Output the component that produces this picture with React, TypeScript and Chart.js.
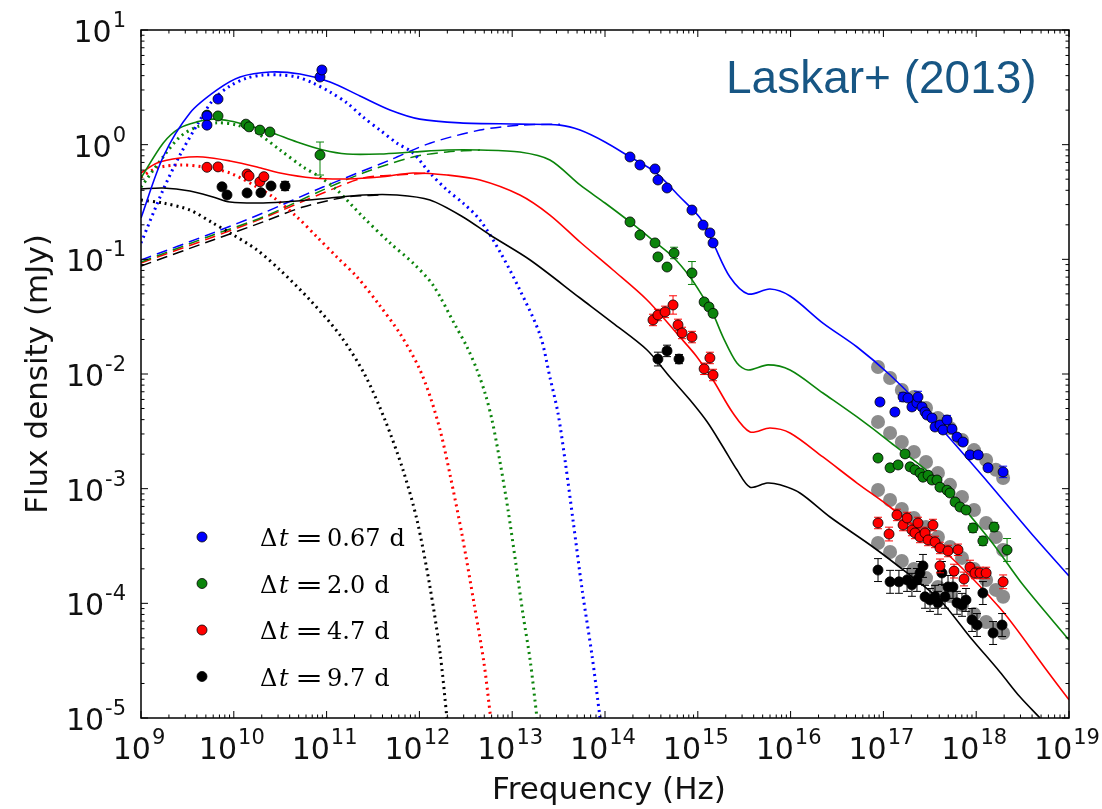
import { useEffect, useRef } from "react";
import { Chart, registerables } from "chart.js";

Chart.register(...registerables);

// [frequency (Hz), flux density (mJy)]
type Pt = [number, number];
// [frequency (Hz), flux density (mJy), error below (dex), error above (dex, optional)]
type Obs = number[];

// Tick decades
const xDecades = [9, 10, 11, 12, 13, 14, 15, 16, 17, 18, 19];
const yDecades = [-5, -4, -3, -2, -1, 0, 1];

const epochLabels = ["0.67", "2.0", "4.7", "9.7"];
const epochColors = ["#0000ff", "#0b840b", "#ff0000", "#000000"];

// ---- Δt = 0.67 d ----
const total067: Pt[] = [
  [1e9, 0.229], [1.73e9, 0.781], [3.37e9, 1.89], [6.59e9, 3.0], [1.17e10, 3.89], [2.45e10, 4.3],
  [5.17e10, 4.13], [1.09e11, 3.52], [2.29e11, 2.66], [4.82e11, 2.01], [1.01e12, 1.67], [2.74e12, 1.55],
  [1.21e13, 1.51], [3.27e13, 1.48], [5.38e13, 1.34], [1e14, 1.055], [1.86e14, 0.781], [3.46e14, 0.578],
  [6.43e14, 0.35], [1.06e15, 0.229], [1.46e15, 0.139], [2.22e15, 0.0701], [3.48e15, 0.0499],
  [6.0e15, 0.0551], [9.86e15, 0.0479], [2.23e16, 0.0278], [5.2e16, 0.0172], [1.18e17, 0.0098],
  [2.48e17, 0.00537], [1.1e18, 0.00137], [3.8e18, 4.19e-4], [1e19, 1.73e-4],
];
const reverse067: Pt[] = [
  [1e9, 0.139], [1.73e9, 0.403], [2.63e9, 0.813], [4.01e9, 1.48], [5.97e9, 2.45], [9.1e9, 3.25],
  [1.39e10, 3.81], [2.07e10, 4.05], [3.15e10, 4.05], [4.8e10, 3.89], [7.13e10, 3.45], [1.09e11, 2.88],
  [1.66e11, 2.31], [2.47e11, 1.74], [3.76e11, 1.34], [5.74e11, 1.03], [8.53e11, 0.846], [1.3e12, 0.566],
  [1.98e12, 0.403], [2.95e12, 0.31], [4.5e12, 0.22], [7.4e12, 0.116], [1.21e13, 0.054], [2.0e13, 0.0218],
  [2.56e13, 0.00923], [3.12e13, 0.00452], [3.75e13, 0.00166], [4.52e13, 5.33e-4], [5.68e13, 1.3e-4],
  [7.25e13, 3.5e-5], [8.84e13, 1e-5],
];
const forward067: Pt[] = [
  [1e9, 0.0987], [5.97e9, 0.17], [2.07e10, 0.2535], [9.15e10, 0.427], [4.82e11, 0.735],
  [1.3e12, 1.03], [4.5e12, 1.34], [1.21e13, 1.48], [3.27e13, 1.51],
];
const obs067: Obs[] = [
  [5.14e9, 1.78, 0], [5.14e9, 1.48, 0], [6.76e9, 2.5, 0], [8.49e10, 3.89, 0.03], [8.9e10, 4.48, 0.03],
  [1.86e14, 0.781, 0], [2.38e14, 0.665, 0], [3.46e14, 0.614, 0], [3.72e14, 0.492, 0], [4.66e14, 0.419, 0],
  [8.65e14, 0.269, 0], [1.14e15, 0.199, 0], [1.35e15, 0.17, 0], [1.46e15, 0.139, 0],
  [9.18e16, 0.0057, 0.03], [1.33e17, 0.00466, 0.03], [1.63e17, 0.0063, 0.04], [1.84e17, 0.00617, 0.03],
  [2.03e17, 0.00516, 0.03], [2.3e17, 0.00559, 0.03], [2.36e17, 0.0063, 0.05], [2.61e17, 0.00516, 0.03],
  [2.81e17, 0.00466, 0.03], [2.95e17, 0.00439, 0.03], [3.34e17, 0.00413, 0.03], [3.6e17, 0.00345, 0.03],
  [4.07e17, 0.00359, 0.03], [4.39e17, 0.00325, 0.03], [4.85e17, 0.00397, 0.04], [5.49e17, 0.00331, 0.03],
  [6.21e17, 0.00282, 0.03], [7.21e17, 0.00255, 0.03], [8.57e17, 0.00197, 0.03], [1.05e18, 0.00197, 0.03],
  [1.34e18, 0.00152, 0.03], [1.95e18, 0.0014, 0.05],
];
const grey067: Pt[] = [
  [8.75e16, 0.0115], [1.18e17, 0.00923], [1.58e17, 0.00725], [2.13e17, 0.0063], [2.88e17, 0.00505],
  [3.87e17, 0.00413], [5.22e17, 0.00338], [7.03e17, 0.00266], [9.47e17, 0.00217], [1.28e18, 0.00178],
  [1.63e18, 0.00146], [1.95e18, 0.00124],
];

// ---- Δt = 2.0 d ----
const total20: Pt[] = [
  [1e9, 0.512], [1.73e9, 1.03], [2.63e9, 1.4], [4.01e9, 1.58], [5.97e9, 1.67], [9.1e9, 1.61],
  [1.39e10, 1.48], [2.45e10, 1.29], [4.8e10, 1.055], [9.15e10, 0.898], [1.66e11, 0.829], [3.76e11, 0.829],
  [8.53e11, 0.863], [1.98e12, 0.898], [4.5e12, 0.898], [1.21e13, 0.863], [2.55e13, 0.735], [5.38e13, 0.445],
  [1e14, 0.31], [1.86e14, 0.212], [3.46e14, 0.1416], [5.41e14, 0.1048], [8.25e14, 0.0701], [1.14e15, 0.0469],
  [1.46e15, 0.0334], [1.87e15, 0.021], [2.64e15, 0.01247], [3.48e15, 0.01084], [5.71e15, 0.012],
  [9.86e15, 0.01084], [2.23e16, 0.00683], [5.2e16, 0.00422], [1.18e17, 0.00255], [4.07e17, 0.00114],
  [1.41e18, 3.57e-4], [3.19e18, 1.45e-4], [1e19, 4.79e-5],
];
const reverse20: Pt[] = [
  [1e9, 0.427], [1.73e9, 0.781], [2.63e9, 1.17], [4.01e9, 1.43], [6.59e9, 1.55], [1.08e10, 1.48],
  [1.78e10, 1.26], [3.15e10, 0.898], [5.57e10, 0.639], [8.49e10, 0.522], [1.29e11, 0.403], [2.47e11, 0.234],
  [4.82e11, 0.139], [8.53e11, 0.0929], [1.4e12, 0.0597], [2.42e12, 0.0268], [3.26e12, 0.0172],
  [4.18e12, 0.01084], [5.09e12, 0.00683], [6.06e12, 0.00397], [7.39e12, 0.00171], [9.02e12, 6.52e-4],
  [1.1e13, 2.16e-4], [1.31e13, 7.91e-5], [1.56e13, 3.21e-5], [1.85e13, 1e-5],
];
const forward20: Pt[] = [
  [1e9, 0.0948], [5.97e9, 0.163], [2.07e10, 0.234], [9.15e10, 0.403], [2.47e11, 0.566],
  [8.53e11, 0.781], [1.98e12, 0.863], [4.5e12, 0.898],
];
const obs20: Obs[] = [
  [5.14e9, 1.81, 0], [6.76e9, 1.78, 0], [1.35e10, 1.51, 0], [1.46e10, 1.43, 0], [1.91e10, 1.34, 0],
  [2.45e10, 1.29, 0], [8.49e10, 0.813, 0.175, 0.113],
  [1.86e14, 0.212, 0], [2.38e14, 0.163, 0], [3.46e14, 0.139, 0], [3.72e14, 0.105, 0], [4.66e14, 0.0857, 0],
  [5.55e14, 0.1136, 0.05], [8.65e14, 0.076, 0.1], [1.17e15, 0.0425, 0.03], [1.32e15, 0.0384, 0.03],
  [1.46e15, 0.0338, 0.03],
  [8.75e16, 0.00185, 0.03], [1.18e17, 0.00152, 0.03], [1.44e17, 0.00161, 0.03], [1.71e17, 0.00201, 0.03],
  [1.94e17, 0.00155, 0.03], [2.19e17, 0.00146, 0.03], [2.48e17, 0.00137, 0.03], [2.67e17, 0.00126, 0.03],
  [3.03e17, 0.00131, 0.03], [3.34e17, 0.00119, 0.03], [3.78e17, 0.00119, 0.03], [4.07e17, 0.00103, 0.03],
  [4.85e17, 9.7e-4, 0.03], [5.22e17, 9.17e-4, 0.03], [5.92e17, 7.65e-4, 0.03], [6.69e17, 6.92e-4, 0.03],
  [7.76e17, 6.52e-4, 0.03], [9.24e17, 4.54e-4, 0.04], [1.18e18, 3.5e-4, 0.04], [1.56e18, 4.63e-4, 0.04],
  [2.15e18, 2.92e-4, 0.1],
];
const grey20: Pt[] = [
  [8.75e16, 0.00382], [1.18e17, 0.00306], [1.58e17, 0.00255], [2.13e17, 0.00209], [2.88e17, 0.00171],
  [3.87e17, 0.00137], [5.22e17, 0.00108], [7.03e17, 8.46e-4], [9.47e17, 6.52e-4], [1.28e18, 5.02e-4],
  [1.63e18, 3.79e-4], [1.95e18, 2.92e-4],
];

// ---- Δt = 4.7 d ----
const total47: Pt[] = [
  [1e9, 0.566], [1.49e9, 0.692], [2.63e9, 0.765], [4.66e9, 0.781], [9.1e9, 0.721], [1.78e10, 0.639],
  [3.15e10, 0.566], [7.13e10, 0.512], [1.66e11, 0.502], [3.76e11, 0.522], [8.53e11, 0.566], [1.98e12, 0.544],
  [4.5e12, 0.492], [1.21e13, 0.364], [2.55e13, 0.2435], [5.38e13, 0.1416], [1.22e14, 0.0807], [2.84e14, 0.0442],
  [6.43e14, 0.021], [9.8e14, 0.0141], [1.46e15, 0.00887], [2.39e15, 0.00457], [3.66e15, 0.00312],
  [6.0e15, 0.00338], [9.86e15, 0.00306], [2.23e16, 0.00189], [5.2e16, 0.00112], [1.18e17, 6.92e-4],
  [4.07e17, 3.1e-4], [1.8e18, 9.1e-5], [5.51e18, 2.73e-5], [1e19, 1.44e-5],
];
const reverse47: Pt[] = [
  [1e9, 0.522], [1.49e9, 0.626], [2.63e9, 0.665], [4.66e9, 0.639], [9.1e9, 0.566], [1.78e10, 0.427],
  [2.64e10, 0.35], [4.8e10, 0.234], [7.89e10, 0.1566], [1.29e11, 0.1048], [2.13e11, 0.0701],
  [3.68e11, 0.0402], [6.18e11, 0.0225], [9.82e11, 0.0115], [1.33e12, 0.00608], [1.71e12, 0.00301],
  [2.14e12, 0.00132], [2.88e12, 3.96e-4], [3.88e12, 9.98e-5], [4.97e12, 3.0e-5], [5.86e12, 1e-5],
];
const forward47: Pt[] = [
  [1e9, 0.0929], [5.97e9, 0.1566], [2.07e10, 0.229], [9.15e10, 0.379], [2.47e11, 0.512],
  [5.74e11, 0.544], [1.3e12, 0.566],
];
const obs47: Obs[] = [
  [5.14e9, 0.635, 0], [6.76e9, 0.64, 0], [1.39e10, 0.555, 0], [1.46e10, 0.533, 0], [1.91e10, 0.475, 0],
  [2.11e10, 0.526, 0],
  [3.29e14, 0.0296, 0.05], [3.72e14, 0.0327, 0.05], [4.44e14, 0.0348, 0.05], [5.41e14, 0.04, 0.08],
  [6.12e14, 0.0268, 0.05], [6.76e14, 0.0228, 0.05], [8.65e14, 0.021, 0.05], [1.17e15, 0.0111, 0.05],
  [1.35e15, 0.0138, 0.05], [1.46e15, 0.0098, 0.05],
  [8.75e16, 5.02e-4, 0.05], [1.15e17, 4.02e-4, 0.06], [1.4e17, 5.9e-4, 0.05], [1.63e17, 4.82e-4, 0.05],
  [1.8e17, 5.55e-4, 0.05], [2.03e17, 4.36e-4, 0.05], [2.19e17, 4.11e-4, 0.05], [2.36e17, 5.02e-4, 0.05],
  [2.48e17, 3.79e-4, 0.05], [2.81e17, 4.11e-4, 0.05], [3.03e17, 3.57e-4, 0.05], [3.42e17, 4.82e-4, 0.05],
  [3.6e17, 3.43e-4, 0.05], [4.07e17, 3.04e-4, 0.05], [4.97e17, 2.86e-4, 0.05], [6.37e17, 2.93e-4, 0.05],
  [4.07e17, 2.12e-4, 0.06], [5.77e17, 1.91e-4, 0.06], [7.39e17, 1.63e-4, 0.06], [8.57e17, 2.07e-4, 0.06],
  [9.7e17, 1.84e-4, 0.05], [1.1e18, 1.84e-4, 0.05], [1.28e18, 1.84e-4, 0.05], [1.95e18, 1.54e-4, 0.06],
];
const grey47: Pt[] = [
  [8.75e16, 9.74e-4], [1.18e17, 7.96e-4], [1.58e17, 6.65e-4], [2.13e17, 5.55e-4], [2.88e17, 4.63e-4],
  [3.87e17, 3.79e-4], [5.22e17, 3.1e-4], [7.03e17, 2.49e-4], [9.47e17, 1.99e-4], [1.28e18, 1.6e-4],
  [1.63e18, 1.31e-4], [1.95e18, 1.14e-4],
];

// ---- Δt = 9.7 d ----
const total97: Pt[] = [
  [1e9, 0.411], [1.73e9, 0.419], [3.37e9, 0.394], [5.97e9, 0.35], [9.1e9, 0.316], [2.07e10, 0.31],
  [4.8e10, 0.323], [1.09e11, 0.343], [2.47e11, 0.364], [5.74e11, 0.364], [1.3e12, 0.329], [2.95e12, 0.234],
  [5.77e12, 0.163], [1.56e13, 0.0987], [5.38e13, 0.046], [1.22e14, 0.0278], [2.84e14, 0.0162],
  [5.01e14, 0.00941], [8.25e14, 0.00593], [1.26e15, 0.00383], [1.87e15, 0.00231], [2.64e15, 0.00146],
  [3.66e15, 0.00103], [5.57e15, 0.00112], [7.69e15, 0.00108], [1.26e16, 9.17e-4], [2.66e16, 5.66e-4],
  [7.73e16, 3.1e-4], [1.8e17, 1.84e-4], [4.07e17, 1.07e-4], [8.57e17, 5.09e-5], [1.8e18, 2.52e-5],
  [2.96e18, 1.53e-5], [4.87e18, 1e-5],
];
const reverse97: Pt[] = [
  [1e9, 0.329], [1.73e9, 0.31], [3.37e9, 0.269], [5.97e9, 0.207], [9.1e9, 0.17], [1.78e10, 0.1206],
  [3.15e10, 0.0807], [6.62e10, 0.0442], [1.39e11, 0.0219], [2.59e11, 0.0098], [4.26e11, 0.00397],
  [6.65e11, 0.00146], [9.42e11, 5.33e-4], [1.3e12, 1.39e-4], [1.67e12, 3.69e-5], [1.98e12, 1e-5],
];
const forward97: Pt[] = [
  [1e9, 0.0875], [5.97e9, 0.1475], [2.07e10, 0.212], [5.57e10, 0.286], [1.66e11, 0.35], [3.76e11, 0.364],
];
const obs97: Obs[] = [
  [7.46e9, 0.429, 0], [8.45e9, 0.364, 0], [1.39e10, 0.379, 0], [1.96e10, 0.381, 0], [2.52e10, 0.436, 0],
  [3.57e10, 0.436, 0.04],
  [3.72e14, 0.0135, 0.06], [4.66e14, 0.0159, 0.05], [6.27e14, 0.0135, 0.04],
  [8.75e16, 1.95e-4, 0.1], [1.18e17, 1.54e-4, 0.1], [1.47e17, 1.54e-4, 0.1], [1.8e17, 1.6e-4, 0.1],
  [2.03e17, 1.45e-4, 0.1], [2.3e17, 1.6e-4, 0.1], [2.48e17, 1.84e-4, 0.1], [2.67e17, 2.12e-4, 0.1],
  [2.81e17, 1.14e-4, 0.1], [3.18e17, 1.07e-4, 0.1], [3.6e17, 1.14e-4, 0.1], [3.87e17, 1.01e-4, 0.1],
  [4.27e17, 1.84e-4, 0.1], [4.61e17, 1.14e-4, 0.1], [4.97e17, 1.39e-4, 0.1], [5.62e17, 1.39e-4, 0.1],
  [6.21e17, 1.01e-4, 0.1], [7.03e17, 9.7e-5, 0.1], [7.76e17, 1.07e-4, 0.1], [9.02e17, 7.16e-5, 0.1],
  [1.02e18, 6.47e-5, 0.1], [1.18e18, 1.23e-4, 0.1], [1.52e18, 5.51e-5, 0.1], [1.9e18, 6.47e-5, 0.1],
];
const grey97: Pt[] = [
  [8.75e16, 3.36e-4], [1.18e17, 2.8e-4], [1.58e17, 2.34e-4], [2.13e17, 1.99e-4], [2.88e17, 1.66e-4],
  [3.87e17, 1.39e-4], [5.22e17, 1.16e-4], [7.03e17, 9.67e-5], [9.47e17, 8.07e-5], [1.28e18, 6.87e-5],
  [1.63e18, 5.97e-5], [1.95e18, 5.51e-5],
];

const totals = [total067, total20, total47, total97];
const reverses = [reverse067, reverse20, reverse47, reverse97];
const forwards = [forward067, forward20, forward47, forward97];
const observations = [obs067, obs20, obs47, obs97];
const greys = [grey067, grey20, grey47, grey97];

const SANS = '"DejaVu Sans", "Noto Sans", sans-serif';
const SERIF = '"DejaVu Serif", "Liberation Serif", serif';

const toXY = (pts: Pt[] | Obs[]) => pts.map((p) => ({ x: p[0], y: p[1] }));

function buildDatasets() {
  const sets: any[] = [];
  epochLabels.forEach((_, i) => {
    const color = epochColors[i];
    sets.push({
      data: toXY(greys[i]), showLine: false, pointRadius: 7, pointHoverRadius: 7,
      pointBackgroundColor: "#8c8c8c", pointBorderWidth: 0, order: 5,
    });
    const line = { showLine: true, pointRadius: 0, pointHoverRadius: 0, fill: false, tension: 0.3, borderColor: color };
    sets.push({ ...line, data: toXY(forwards[i]), borderWidth: 1.5, borderDash: [11, 6], order: 4 });
    sets.push({ ...line, data: toXY(reverses[i]), borderWidth: 3, borderDash: [2, 4], order: 3 });
    sets.push({ ...line, data: toXY(totals[i]), borderWidth: 1.6, order: 2 });
    const obs = observations[i];
    sets.push({
      data: toXY(obs), showLine: false, pointRadius: 5, pointHoverRadius: 5,
      pointBackgroundColor: color, pointBorderColor: "#000", pointBorderWidth: 0.8, order: 1,
      errs: obs.map((o) => (o[2] ? [o[2], o[3] ?? o[2]] : null)), errColor: color,
    });
  });
  return sets;
}

function drawPower(ctx: CanvasRenderingContext2D, exp: string, x: number, baseline: number, align: "center" | "right") {
  ctx.font = `30px ${SANS}`;
  const wb = ctx.measureText("10").width;
  ctx.font = `21px ${SANS}`;
  const ws = ctx.measureText(exp).width;
  const total = wb + 1 + ws;
  const left = align === "center" ? x - total / 2 : x - total;
  ctx.textAlign = "left";
  ctx.textBaseline = "alphabetic";
  ctx.font = `30px ${SANS}`;
  ctx.fillText("10", left, baseline);
  ctx.font = `21px ${SANS}`;
  ctx.fillText(exp, left + wb + 1, baseline - 15);
}

const decor = {
  id: "decor",
  beforeDatasetDraw(chart: any, args: any) {
    const ds = chart.data.datasets[args.index];
    if (!ds.errs) return;
    const { ctx } = chart;
    const xs = chart.scales.x;
    const ys = chart.scales.y;
    ctx.save();
    ctx.strokeStyle = ds.errColor;
    ctx.lineWidth = 1;
    ds.errs.forEach((e: number[] | null, i: number) => {
      if (!e) return;
      const p = ds.data[i];
      const x = xs.getPixelForValue(p.x);
      const y1 = ys.getPixelForValue(p.y / Math.pow(10, e[0]));
      const y2 = ys.getPixelForValue(p.y * Math.pow(10, e[1]));
      ctx.beginPath();
      ctx.moveTo(x, y1); ctx.lineTo(x, y2);
      ctx.moveTo(x - 4, y1); ctx.lineTo(x + 4, y1);
      ctx.moveTo(x - 4, y2); ctx.lineTo(x + 4, y2);
      ctx.stroke();
    });
    ctx.restore();
  },
  afterDraw(chart: any) {
    const { ctx, chartArea: a } = chart;
    const xs = chart.scales.x;
    const ys = chart.scales.y;
    ctx.save();
    ctx.strokeStyle = "#000";
    ctx.fillStyle = "#000";
    ctx.lineWidth = 1;
    const seg = (x1: number, y1: number, x2: number, y2: number) => {
      ctx.beginPath(); ctx.moveTo(x1, y1); ctx.lineTo(x2, y2); ctx.stroke();
    };
    // inward ticks on all four sides
    xDecades.forEach((d, i) => {
      const x = xs.getPixelForValue(Math.pow(10, d));
      seg(x, a.bottom, x, a.bottom - 7); seg(x, a.top, x, a.top + 7);
      if (i < xDecades.length - 1) {
        for (let k = 2; k <= 9; k++) {
          const xm = xs.getPixelForValue(k * Math.pow(10, d));
          seg(xm, a.bottom, xm, a.bottom - 3.5); seg(xm, a.top, xm, a.top + 3.5);
        }
      }
    });
    yDecades.forEach((d, i) => {
      const y = ys.getPixelForValue(Math.pow(10, d));
      seg(a.left, y, a.left + 7, y); seg(a.right, y, a.right - 7, y);
      if (i < yDecades.length - 1) {
        for (let k = 2; k <= 9; k++) {
          const ym = ys.getPixelForValue(k * Math.pow(10, d));
          seg(a.left, ym, a.left + 3.5, ym); seg(a.right, ym, a.right - 3.5, ym);
        }
      }
    });
    ctx.lineWidth = 1.5;
    ctx.strokeRect(a.left, a.top, a.right - a.left, a.bottom - a.top);

    // tick labels
    ctx.fillStyle = "#111";
    xDecades.forEach((d) => {
      const x = xs.getPixelForValue(Math.pow(10, d));
      drawPower(ctx, String(d), x - 2, a.bottom + 41, "center");
    });
    yDecades.forEach((d) => {
      const y = ys.getPixelForValue(Math.pow(10, d));
      drawPower(ctx, String(d), a.left - 15, y + 12, "right");
    });

    // axis titles
    ctx.font = `31px ${SANS}`;
    ctx.textAlign = "center";
    ctx.textBaseline = "alphabetic";
    ctx.fillText("Frequency (Hz)", (a.left + a.right) / 2 + 4, 799);
    ctx.save();
    ctx.translate(47, (a.top + a.bottom) / 2);
    ctx.rotate(-Math.PI / 2);
    ctx.fillText("Flux density (mJy)", 0, 0);
    ctx.restore();

    // citation
    ctx.fillStyle = "#175684";
    ctx.font = `46px "Liberation Sans", Arial, sans-serif`;
    ctx.textAlign = "left";
    ctx.fillText("Laskar+ (2013)", 726, 93);

    // legend
    epochLabels.forEach((lab, i) => {
      const cy = 537 + i * 46.5;
      ctx.beginPath();
      ctx.arc(202, cy, 5, 0, Math.PI * 2);
      ctx.fillStyle = epochColors[i];
      ctx.fill();
      ctx.lineWidth = 0.8;
      ctx.strokeStyle = "#000";
      ctx.stroke();
      const base = cy + 9;
      ctx.fillStyle = "#000";
      ctx.textAlign = "left";
      ctx.font = `24px ${SERIF}`;
      ctx.fillText("\u0394", 260, base);
      ctx.font = `italic 24px ${SERIF}`;
      ctx.fillText("t", 279, base);
      ctx.save();
      ctx.translate(295, base);
      ctx.scale(1.4, 1);
      ctx.font = `24px ${SERIF}`;
      ctx.fillText("=", 0, 0);
      ctx.restore();
      ctx.font = `24px ${SERIF}`;
      ctx.fillText(lab, 327, base);
      const w = ctx.measureText(lab).width;
      ctx.fillText("d", 327 + w + 9, base);
    });
    ctx.restore();
  },
};

export default function App() {
  const ref = useRef<HTMLCanvasElement | null>(null);
  useEffect(() => {
    if (!ref.current) return;
    const chart = new Chart(ref.current, {
      type: "scatter",
      data: { datasets: buildDatasets() },
      options: {
        animation: false,
        responsive: false,
        maintainAspectRatio: false,
        events: [],
        layout: { padding: { left: 141, right: 33, top: 30, bottom: 91 } },
        scales: {
          x: { type: "logarithmic", min: 1e9, max: 1e19, display: false },
          y: { type: "logarithmic", min: 1e-5, max: 10, display: false },
        },
        plugins: { legend: { display: false }, tooltip: { enabled: false } },
      },
      plugins: [decor],
    });
    return () => chart.destroy();
  }, []);
  return (
    <div style={{ position: "absolute", left: 0, top: 0, width: 1102, height: 809, background: "#fff" }}>
      <canvas ref={ref} width={1102} height={809} style={{ display: "block" }} />
    </div>
  );
}
